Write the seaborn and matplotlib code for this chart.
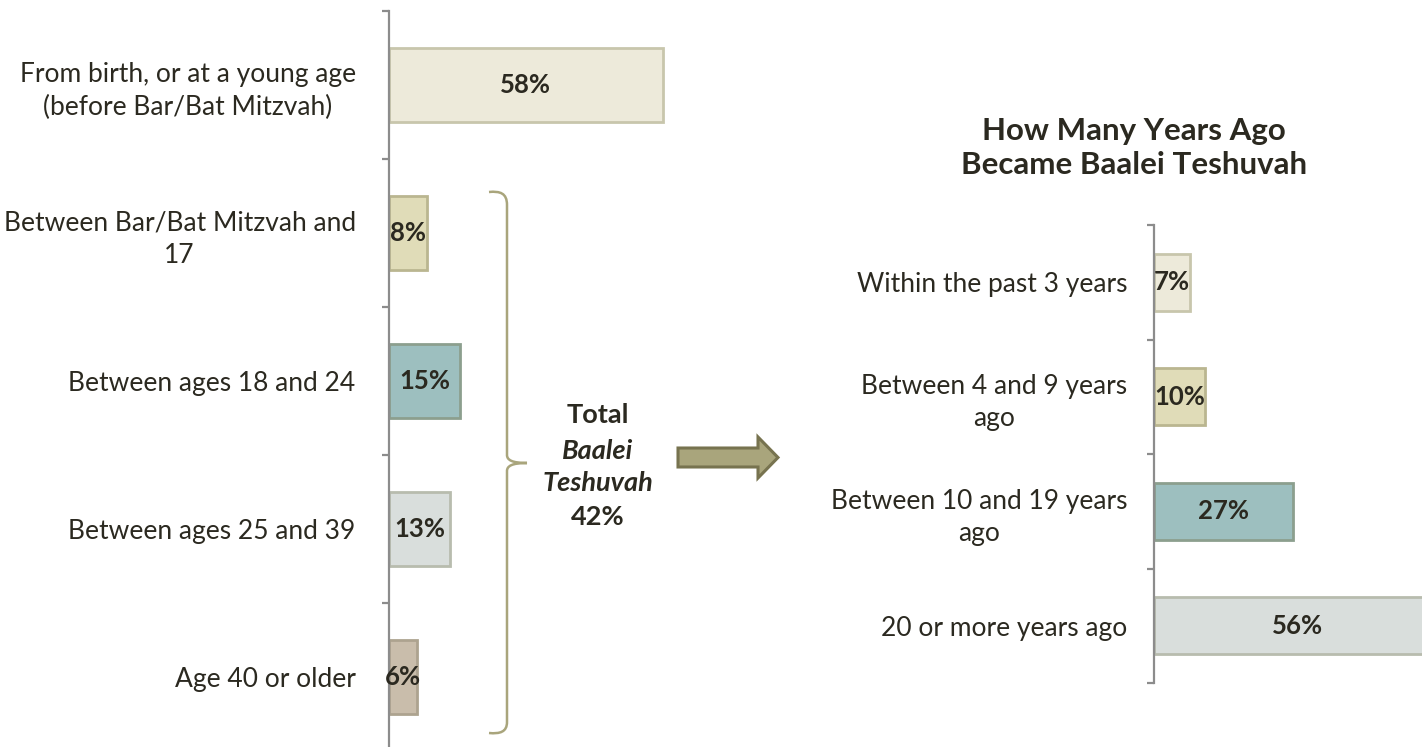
import matplotlib
matplotlib.use("Agg")
import matplotlib.pyplot as plt
import seaborn as sns
import pandas as pd
import numpy as np
from matplotlib.path import Path
from matplotlib.patches import PathPatch, Polygon

# ---------------- data ----------------
left_categories = [
    "From birth, or at a young age\n(before Bar/Bat Mitzvah)",
    "Between Bar/Bat Mitzvah and\n17",
    "Between ages 18 and 24",
    "Between ages 25 and 39",
    "Age 40 or older",
]
left_values = [58, 8, 15, 13, 6]

right_categories = [
    "Within the past 3 years",
    "Between 4 and 9 years\nago",
    "Between 10 and 19 years\nago",
    "20 or more years ago",
]
right_values = [7, 10, 27, 56]

right_title = "How Many Years Ago\nBecame Baalei Teshuvah"
bracket_lines = ["Total", "Baalei", "Teshuvah", "42%"]

left_fill = ["#EDEADA", "#E0DCB8", "#9DBFBF", "#D9DEDC", "#C9BDAB"]
left_edge = ["#C8C6AC", "#BAB690", "#8C9F8E", "#B8BCAE", "#ADA38F"]
right_fill = ["#EDEADA", "#E0DCB8", "#9DBFBF", "#D9DEDC"]
right_edge = ["#C8C6AC", "#BAB690", "#8C9F8E", "#B8BCAE"]

TEXT = "#2B2920"
SPINE = "#8C8C8C"
OLIVE = "#A9A57C"
OLIVE_DARK = "#77734F"

sns.set_theme(style="white")
plt.rcParams["font.family"] = ["Lato", "DejaVu Sans"]
plt.rcParams["text.color"] = TEXT

W, H = 1422, 747
fig = plt.figure(figsize=(W / 100, H / 100), dpi=100)


def px_axes(x0, y_top, w, h):
    return fig.add_axes([x0 / W, (H - y_top - h) / H, w / W, h / H])


def style_axis(ax, cats, vals, fills, edges, pad):
    df = pd.DataFrame({"cat": cats, "val": vals})
    sns.barplot(data=df, x="val", y="cat", hue="cat", palette=fills,
                orient="h", width=0.5, legend=False, ax=ax,
                linewidth=2, saturation=1)
    for p, ec in zip(ax.patches, edges):
        p.set_edgecolor(ec)
    for cont, v in zip(ax.containers, vals):
        ax.bar_label(cont, labels=[f"{v}%"], label_type="center",
                     fontsize=18.5, fontweight="bold", color=TEXT)
    n = len(cats)
    ax.set_ylim(n - 0.5, -0.5)
    ax.set_xlabel("")
    ax.set_ylabel("")
    ax.set_xticks([])
    ax.set_yticks(range(n))
    ax.set_yticklabels(cats, fontsize=19, color=TEXT,
                       multialignment="center", linespacing=1.36)
    ax.set_yticks(np.arange(n + 1) - 0.5, minor=True)
    ax.tick_params(axis="y", which="major", length=0, pad=pad)
    ax.tick_params(axis="y", which="minor", length=5, width=1.6,
                   color=SPINE, left=True)
    for s in ["top", "right", "bottom"]:
        ax.spines[s].set_visible(False)
    ax.spines["left"].set_color(SPINE)
    ax.spines["left"].set_linewidth(1.6)
    ax.set_facecolor("none")


# left chart: spine x=389, bands 11..751, 4.72 px per %
axL = px_axes(389, 11, 330, 740)
style_axis(axL, left_categories, left_values, left_fill, left_edge, pad=24)
axL.set_xlim(0, 330 / 4.72)

# right chart: spine x=1154, bands 225..683, 5.14 px per %
axR = px_axes(1154, 225, 300, 458)
style_axis(axR, right_categories, right_values, right_fill, right_edge, pad=19)
axR.set_xlim(0, 300 / 5.14)

# overlay in pixel coordinates for annotations
ov = fig.add_axes([0, 0, 1, 1])
ov.set_xlim(0, W)
ov.set_ylim(H, 0)
ov.axis("off")
ov.set_facecolor("none")

# curly bracket
verts = [
    (489, 192), (500, 191), (507, 193), (507, 205),
    (507, 455),
    (507, 460), (512, 463), (527, 463),
    (512, 463), (507, 466), (507, 471),
    (507, 722),
    (507, 732), (500, 734), (489, 733),
]
codes = [Path.MOVETO, Path.CURVE4, Path.CURVE4, Path.CURVE4,
         Path.LINETO,
         Path.CURVE4, Path.CURVE4, Path.CURVE4,
         Path.CURVE4, Path.CURVE4, Path.CURVE4,
         Path.LINETO,
         Path.CURVE4, Path.CURVE4, Path.CURVE4]
ov.add_patch(PathPatch(Path(verts, codes), fill=False, edgecolor=OLIVE, lw=1.8))

# block arrow
arrow = Polygon([(678, 448), (758, 448), (758, 437), (778, 457.5),
                 (758, 478), (758, 467), (678, 467)], closed=True,
                facecolor=OLIVE, edgecolor=OLIVE_DARK, lw=2.2)
ov.add_patch(arrow)

# bracket text
ys = [415, 451, 483, 517]
styles = ["normal", "italic", "italic", "normal"]
for t, y, st in zip(bracket_lines, ys, styles):
    ov.text(598, y, t, ha="center", va="center", fontsize=19.5,
            fontweight="bold", style=st, color=TEXT)

# right title
ov.text(1134, 148, right_title, ha="center", va="center", fontsize=22.5,
        fontweight="bold", color=TEXT, linespacing=1.3)

fig.savefig("out.png", dpi=100)
